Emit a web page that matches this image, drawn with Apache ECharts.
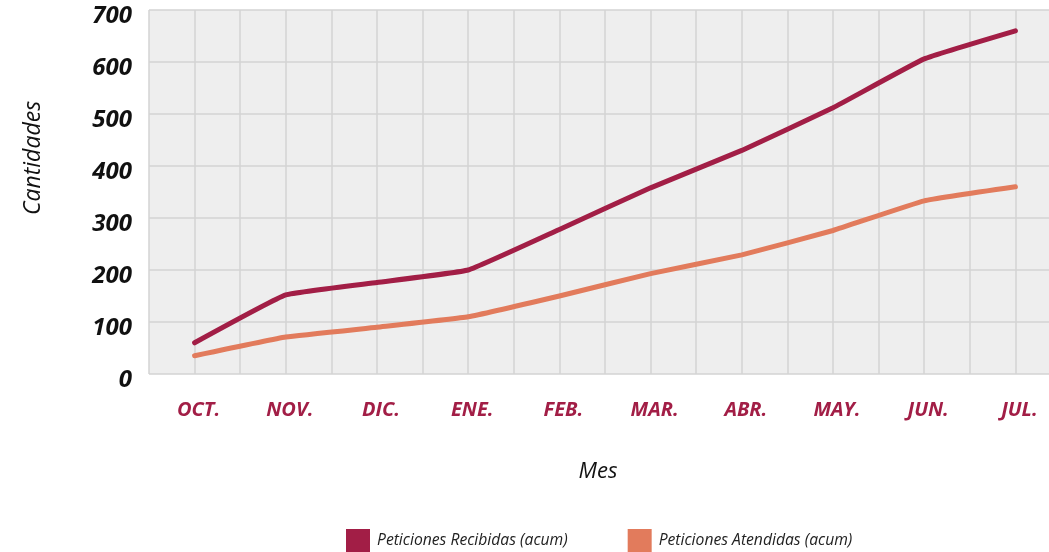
<!DOCTYPE html>
<html lang="es">
<head>
    <meta charset="utf-8"/>
    <title>Peticiones acumuladas</title>
    <script src="https://cdn.jsdelivr.net/npm/echarts@6.0.0/dist/echarts.min.js"></script>
</head>
<style>
    html, body { margin: 0; padding: 0; background: #ffffff; }
    #chart { width: 1049px; height: 552px; }
</style>
<body>
<div id="chart"></div>
<script type="text/javascript">
    // meses (eje x)
    var meses = ['OCT.', 'NOV.', 'DIC.', 'ENE.', 'FEB.', 'MAR.', 'ABR.', 'MAY.', 'JUN.', 'JUL.'];
    // valores acumulados
    var recibidas = [60, 152, 176, 200, 278, 358, 430, 512, 606, 660];
    var atendidas = [35, 71, 90, 110, 150, 193, 229, 276, 333, 360];
    var nombres = ['Peticiones Recibidas (acum)', 'Peticiones Atendidas (acum)'];

    var rojo = '#a21e46',
        naranja = '#e27b5c',
        rejilla = '#d3d3d3',
        fuente = '"Open Sans", "Noto Sans", sans-serif';

    function puntos(valores) {
        return valores.map(function (v, i) { return [i, v]; });
    }

    var myChart = echarts.init(document.getElementById('chart'), null, {renderer: 'canvas'});
    var option = {
        animation: false,
        textStyle: {fontFamily: fuente},
        //leyenda
        legend: {
            data: nombres,
            left: 346,
            top: 529,
            padding: 0,
            icon: 'rect',
            itemWidth: 24,
            itemHeight: 24,
            itemGap: 60,
            textStyle: {fontFamily: fuente, fontStyle: 'italic', fontSize: 15.7, color: '#222222', padding: [0, 0, 0, 2]}
        },
        grid: {
            left: 149,
            top: 10,
            right: -12,
            bottom: 178,
            containLabel: false,
            outerBoundsMode: 'none',
            show: true,
            backgroundColor: '#eeeeee',
            borderWidth: 0
        },
        //eje x: medio mes por linea de rejilla
        xAxis: {
            type: 'value',
            min: -0.5,
            max: 9.5,
            interval: 0.5,
            name: 'Mes',
            nameLocation: 'middle',
            nameGap: 87,
            nameTextStyle: {fontFamily: fuente, fontStyle: 'italic', fontSize: 22, color: '#111111', padding: [0, 14, 0, 0]},
            axisLine: {show: false},
            axisTick: {show: false},
            axisLabel: {
                margin: 26,
                fontFamily: fuente,
                fontStyle: 'italic',
                fontWeight: 'bold',
                fontSize: 20,
                color: rojo,
                padding: [0, 0, 0, 8],
                formatter: function (v) {
                    return Number.isInteger(v) && meses[v] ? meses[v] : '';
                }
            },
            splitLine: {show: true, lineStyle: {color: rejilla, width: 1.5}}
        },
        yAxis: {
            type: 'value',
            min: 0,
            max: 700,
            interval: 100,
            name: 'Cantidades',
            nameLocation: 'middle',
            nameGap: 104,
            nameTextStyle: {fontFamily: fuente, fontStyle: 'italic', fontSize: 23, color: '#111111', padding: [0, 0, 0, 68]},
            axisLine: {show: false},
            axisTick: {show: false},
            axisLabel: {
                margin: 17,
                fontFamily: fuente,
                fontStyle: 'italic',
                fontWeight: 'bold',
                fontSize: 24,
                color: '#111111',
                verticalAlign: 'top',
                lineHeight: 12
            },
            splitLine: {show: true, lineStyle: {color: rejilla, width: 1.5}}
        },
        series: [{
            name: nombres[0],
            type: 'line',
            data: puntos(recibidas),
            smooth: 0.1,
            showSymbol: false,
            symbol: 'none',
            color: rojo,
            lineStyle: {width: 5, color: rojo, cap: 'round', join: 'round'}
        }, {
            name: nombres[1],
            type: 'line',
            data: puntos(atendidas),
            smooth: 0.1,
            showSymbol: false,
            symbol: 'none',
            color: naranja,
            lineStyle: {width: 5, color: naranja, cap: 'round', join: 'round'}
        }]
    };
    myChart.setOption(option);
</script>
</body>
</html>
